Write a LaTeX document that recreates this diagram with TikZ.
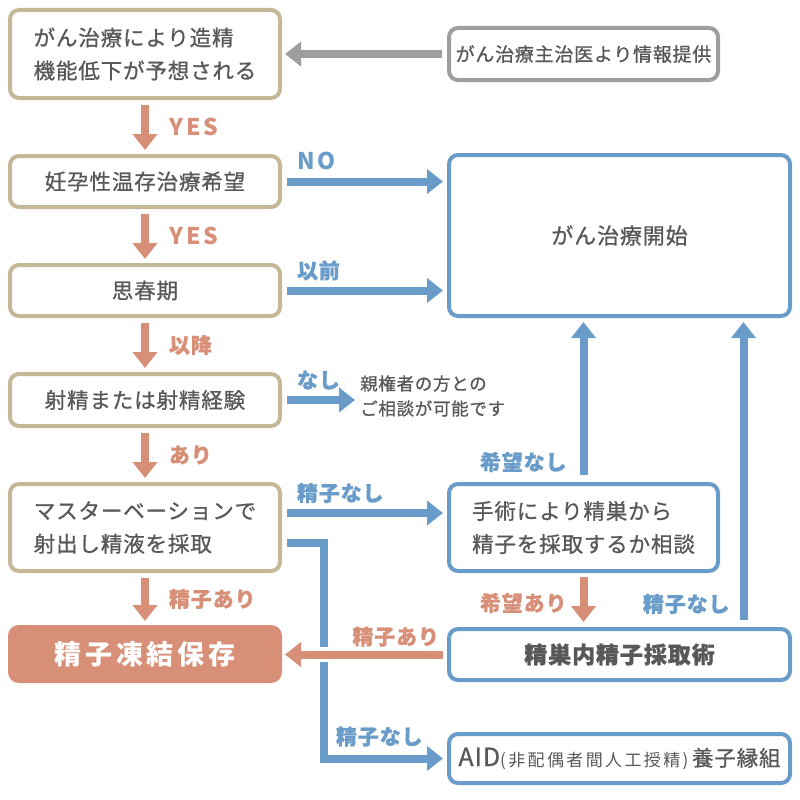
\documentclass[tikz,border=0pt]{standalone}
\usepackage{fontspec}
\setmainfont[LetterSpace=4, FakeBold=0.8]{Noto Sans CJK JP}
\newfontfamily\widefont[LetterSpace=14]{Noto Sans CJK JP}
\usepackage{xcolor}
\usetikzlibrary{positioning, arrows.meta}
\definecolor{boxtan}{RGB}{197,184,152}
\definecolor{salmonpk}{RGB}{216,143,120}
\definecolor{linkblue}{RGB}{106,156,201}
\definecolor{greyline}{RGB}{158,158,158}
\definecolor{ink}{RGB}{88,88,88}

\begin{document}
\begin{tikzpicture}[x=1pt, y=-1pt,
node distance={54pt}, main/.style = {draw=boxtan, line width=4pt, rounded corners=9pt, fill=white, text=ink, align=left,
  minimum width=270pt, minimum height=51pt, font=\fontsize{21.5}{33}\selectfont},
bluebox/.style={main, draw=linkblue, minimum width=341pt},
greybox/.style={main, draw=greyline, minimum width=269pt, minimum height=52pt, font=\fontsize{19}{19}\selectfont},
freezebox/.style={main, draw=salmonpk, fill=salmonpk, text=white, minimum height=54pt, font=\widefont\bfseries\fontsize{27}{27}\selectfont},
salarrow/.style={draw=salmonpk, line width=8pt, -{Triangle[width=24pt,length=16pt]}, shorten <=5pt, shorten >=4pt},
bluarrow/.style={salarrow, draw=linkblue},
greyarrow/.style={salarrow, draw=greyline},
lab/.style={inner sep=0pt, font=\bfseries\fontsize{21}{21}\selectfont},
latin/.style={font=\widefont\bfseries\fontsize{23}{23}\selectfont},
sallab/.style={lab, text=salmonpk}, blulab/.style={lab, text=linkblue}]
\tikzstyle{every node}=[text=ink]
\fill[white] (0,0) rectangle (800,800);
\useasboundingbox (0,0) rectangle (800,800);
% left column
\node[main, minimum height=88pt] (1) at (145,54) {がん治療により造精\\機能低下が予想される};
\node[main] (2) [below=of 1] {妊孕性温存治療希望};
\node[main] (3) [below=of 2] {思春期};
\node[main, minimum height=52pt] (4) [below=of 3] {射精または射精経験};
\node[main, minimum height=87pt] (5) [below=of 4] {マスターベーションで\\射出し精液を採取};
\node[freezebox] (6) [below=52pt of 5] {精子凍結保存};
% right column
\node[greybox] (11) [right=165pt of 1] {がん治療主治医より情報提供};
\node[bluebox, minimum width=269pt, minimum height=87pt] (8) [right=165pt of 5] {手術により精巣から\\精子を採取するか相談};
\node[bluebox, minimum height=161pt, font=\fontsize{22}{22}\selectfont] (7) [above=164pt of 8.north west, anchor=south west] {がん治療開始};
\node[bluebox, font=\bfseries\fontsize{23}{23}\selectfont] (9) [below=54pt of 8.south west, anchor=north west] {精巣内精子採取術};
\node[bluebox, minimum height=49pt] (10) [below=50pt of 9.south west, anchor=north west] {{\fontsize{25}{25}\selectfont AID}{\widefont\fontsize{17}{17}\selectfont(非配偶者間人工授精)}\,養子縁組};
\node[inner sep=0pt, align=left, font=\fontsize{17.5}{25}\selectfont] (12) [right=78pt of 4, yshift=4pt] {親権者の方との\\ご相談が可能です};

\draw[greyarrow, shorten >=3pt] (11) -- (11 -| 1.east);
\draw[salarrow] (1) -- node[sallab, latin, right=20pt] {YES} (2);
\draw[salarrow] (2) -- node[sallab, latin, right=20pt] {YES} (3);
\draw[salarrow] (3) -- node[sallab, right=20pt] {以降} (4);
\draw[salarrow] (4) -- node[sallab, right=20pt] {あり} (5);
\draw[salarrow] (5) -- node[sallab, right=20pt] {精子あり} (6);
\draw[bluarrow] (2) -- node[blulab, latin, at start, anchor=base west, xshift=11pt, yshift=12pt] {NO} (2 -| 7.west);
\draw[bluarrow] (3) -- node[blulab, at start, anchor=base west, xshift=11pt, yshift=12pt] {以前} (3 -| 7.west);
\draw[bluarrow, shorten >=5pt] (4) -- node[blulab, at start, anchor=base west, xshift=11pt, yshift=12pt] {なし} (4 -| 12.west);
\draw[bluarrow] ([yshift=14.5pt]5.east) -- node[blulab, at start, anchor=base west, xshift=11pt, yshift=12pt] {精子なし} ([yshift=14.5pt]5.east -| 8.west);
\draw[bluarrow] ([yshift=-15.5pt]5.east) -- ++(41.5,0) |- node[blulab, pos=0.5, anchor=base west, xshift=8.5pt, yshift=14pt] {精子なし} (10.west);
\draw[bluarrow, shorten <=7pt] (8) -- node[blulab, at start, anchor=east, xshift=-13pt, yshift=20pt] {希望なし} (8 |- 7.south);
\draw[salarrow, shorten <=4pt, shorten >=5pt] (8) -- node[sallab, anchor=east, xshift=-13pt, yshift=-3pt] {希望あり} (8 |- 9.north);
\draw[bluarrow, shorten <=7pt] ([xshift=124pt]9.north) -- node[blulab, at start, anchor=east, xshift=-10pt, yshift=23pt] {精子なし} ([xshift=124pt]7.south);
\draw[salarrow, shorten <=4pt, shorten >=3pt, preaction={draw=white, line width=15pt, -, shorten <=30pt, shorten >=30pt}] (9) -- node[sallab, at start, anchor=base east, xshift=-4pt, yshift=10pt] {精子あり} (9 -| 6.east);
\end{tikzpicture}
\end{document}
